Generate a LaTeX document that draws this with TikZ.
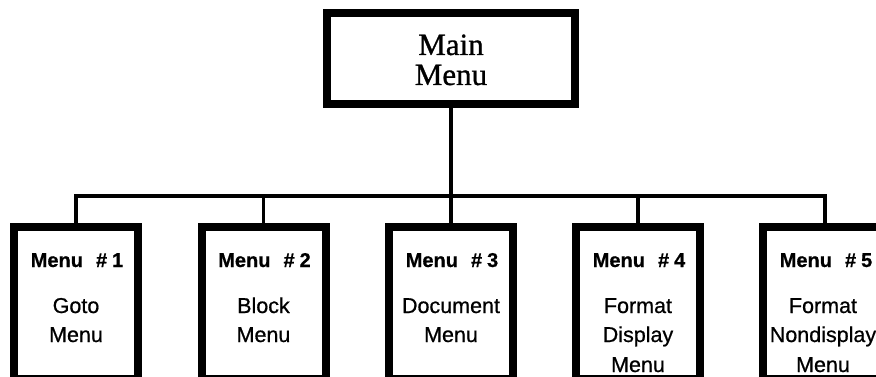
\documentclass[tikz,border=0pt]{standalone}
\usepackage{fontspec}
\setmainfont{Liberation Serif}
\setsansfont{Liberation Sans}
\newfontfamily\mainserif[FakeBold=0.9]{Liberation Serif}
\newfontfamily\bodysans[FakeBold=0.7]{Liberation Sans}
\newfontfamily\headsans[FakeBold=0.6]{Liberation Sans Bold}
\begin{document}
\begin{tikzpicture}[x=1pt,y=1pt,
  mainbox/.style={draw=black,line width=8pt,rectangle,minimum width=248pt,minimum height=91pt,inner sep=0pt},
  menubox/.style={draw=black,line width=8pt,rectangle,minimum width=124pt,minimum height=152.5pt,inner sep=0pt},
  conn/.style={draw=black,line width=3.5pt},
  mainlbl/.style={font=\fontsize{31}{30}\selectfont\mainserif,anchor=base,inner sep=0pt},
  headlbl/.style={font=\fontsize{20}{20}\selectfont\headsans,anchor=base,inner sep=0pt},
  bodylbl/.style={font=\fontsize{21.5}{22}\selectfont\bodysans,anchor=base,inner sep=0pt}
]
\useasboundingbox (0,0) rectangle (876,-377);
\clip (0,0) rectangle (876,-377);
\fill[white] (0,0) rectangle (876,-377);

% main box
\node[mainbox] (main) at (451,-58.5) {};
\node[mainlbl] (mainA) at (451,-55) {Main};
\node[mainlbl] (mainB) at (451,-85) {Menu};

% bus
\coordinate (bus) at (451,-196);
\coordinate (b1) at (76,-196);
\coordinate (b2) at (263.5,-196);
\coordinate (b3) at (451,-196);
\coordinate (b4) at (638,-196);
\coordinate (b5) at (825,-196);

% menu boxes
\node[menubox] (box1) at (76,-302.75) {};
\node[menubox] (box2) at (263.5,-302.75) {};
\node[menubox] (box3) at (451,-302.75) {};
\node[menubox] (box4) at (638,-302.75) {};
\node[menubox] (box5) at (825,-302.75) {};

% connectors
\draw[conn] (main.south) -- (bus);
\draw[conn,line cap=rect] (b1) -- (b5);
\draw[conn] (b1) -- (box1.north);
\draw[conn] (b2) -- (box2.north);
\draw[conn] (b3) -- (box3.north);
\draw[conn] (b4) -- (box4.north);
\draw[conn] (b5) -- (box5.north);

% labels
\node[headlbl] (h1) at (77,-267) {Menu\hspace{13pt}\#\hspace{5pt}1};
\node[bodylbl] (t1a) at (76,-313) {Goto};
\node[bodylbl] (t1b) at (76,-342) {Menu};

\node[headlbl] (h2) at (264.5,-267) {Menu\hspace{13pt}\#\hspace{5pt}2};
\node[bodylbl] (t2a) at (263.5,-313) {Block};
\node[bodylbl] (t2b) at (263.5,-342) {Menu};

\node[headlbl] (h3) at (452,-267) {Menu\hspace{13pt}\#\hspace{5pt}3};
\node[bodylbl] (t3a) at (451,-313) {Document};
\node[bodylbl] (t3b) at (451,-342) {Menu};

\node[headlbl] (h4) at (639,-267) {Menu\hspace{13pt}\#\hspace{5pt}4};
\node[bodylbl] (t4a) at (638,-313) {Format};
\node[bodylbl] (t4b) at (638,-342) {Display};
\node[bodylbl] (t4c) at (638,-372) {Menu};

\node[headlbl] (h5) at (826,-267) {Menu\hspace{13pt}\#\hspace{5pt}5};
\node[bodylbl] (t5a) at (823,-313) {Format};
\node[bodylbl] (t5b) at (823,-342) {Nondisplay};
\node[bodylbl] (t5c) at (823,-372) {Menu};
\end{tikzpicture}
\end{document}
